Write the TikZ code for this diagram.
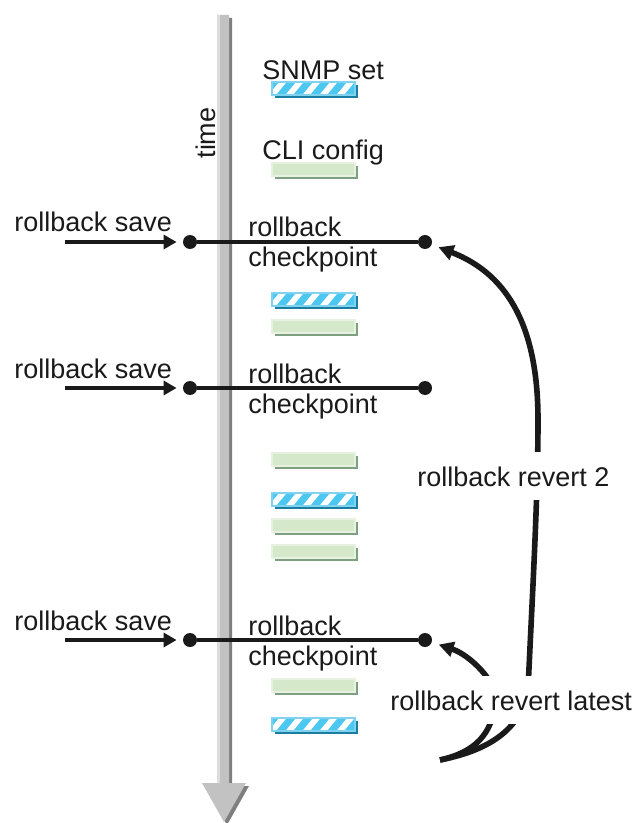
\documentclass[tikz,border=0pt]{standalone}
\usepackage{fontspec}
\setmainfont{Liberation Sans}
\usetikzlibrary{arrows.meta}

\definecolor{ink}{HTML}{1A1A1A}
\definecolor{axisgray}{HTML}{C2C2C2}
\definecolor{axislight}{HTML}{DCDCDC}
\definecolor{axisdark}{HTML}{7F7F7F}
\definecolor{snmpblue}{HTML}{4CC8F0}
\definecolor{snmpedge}{HTML}{7FD3F0}
\definecolor{snmpshadow}{HTML}{1B7EA0}
\definecolor{clifill}{HTML}{D5E8C9}
\definecolor{cliedge}{HTML}{E6F1DF}
\definecolor{clishadow}{HTML}{7E9F80}

\tikzset{
  dot/.style={circle, fill=ink, inner sep=0pt, minimum size=7pt},
  lbl/.style={font=\fontsize{13.5}{16}\selectfont, text=ink, inner sep=0pt},
  tie/.style={ink, line width=1.6pt},
  feed/.style={ink, line width=1.6pt, -{Triangle[length=6.5pt,width=7pt]}, shorten >=3pt},
  revert/.style={ink, line width=2.8pt, -{Triangle[length=7.5pt,width=7.5pt]}, shorten >=3.5pt},
  cover/.style={lbl, fill=white, inner xsep=1pt, inner ysep=7pt, anchor=base west},
}

\begin{document}
\begin{tikzpicture}[x=0.5pt,y=-0.5pt]
  \useasboundingbox (0,0) rectangle (638,823);

  % time axis
  \fill[axisdark] (220,18) -- (232,18) -- (232,786) -- (249,786) -- (227,825) -- (205,786) -- (220,786) -- cycle;
  \fill[axisgray] (217,15) -- (229,15) -- (229,783) -- (246,783) -- (224,822) -- (202,783) -- (217,783) -- cycle;
  \fill[axislight] (217,15) rectangle (219.5,783);
  \node[lbl, rotate=90, anchor=base] (time) at (215,133) {time};

  % SNMP set bars
  \foreach \t in {82,293,493,718} {
    \fill[snmpshadow] (275,\t+3) rectangle (358,\t+16);
    \begin{scope}
      \clip (272,\t) rectangle (355,\t+13);
      \fill[white] (272,\t) rectangle (355,\t+13);
      \foreach \k in {0,...,6}
        \draw[snmpblue, line width=3.5pt] (262+\k*17,\t+15) -- (276+\k*17,\t-2);
    \end{scope}
    \draw[snmpedge, line width=0.8pt] (272,\t) rectangle (355,\t+13);
  }

  % CLI config bars
  \foreach \t in {163,320,453,519,545,679} {
    \fill[clishadow] (275,\t+3) rectangle (358,\t+16);
    \fill[clifill] (272,\t) rectangle (355,\t+13);
    \draw[cliedge, line width=0.8pt] (272,\t) rectangle (355,\t+13);
  }

  \node[lbl, anchor=base west] (snmp) at (262,80) {SNMP set};
  \node[lbl, anchor=base west] (cli) at (262,160) {CLI config};

  % checkpoints
  \foreach \n/\y in {1/242,2/388,3/640} {
    \node[dot] (save\n) at (190,\y) {};
    \node[dot] (chk\n) at (425,\y) {};
    \coordinate (in\n) at (65,\y);
    \draw[tie] (save\n) -- (chk\n);
    \draw[feed] (in\n) -- (save\n);
    \node[lbl, anchor=base west] (savetxt\n) at (14,\y-10) {rollback save};
    \node[lbl, anchor=base west] (cptop\n) at (248,\y-5) {rollback};
    \node[lbl, anchor=base west] (cpbot\n) at (248,\y+25) {checkpoint};
  }

  % reverts
  \coordinate (rev) at (440,760);
  \draw[revert] (rev) .. controls (480,752) and (520,735) .. (528,690)
    .. controls (532,600) and (538,500) .. (538,420)
    .. controls (538,330) and (510,275) .. (chk1);
  \draw[revert] (rev) .. controls (475,752) and (492,735) .. (496,700)
    .. controls (497,682) and (470,655) .. (chk3);

  \node[cover] (revtwo) at (415,486) {rollback revert 2};
  \node[cover] (revlast) at (388,710) {rollback revert latest};
\end{tikzpicture}
\end{document}
